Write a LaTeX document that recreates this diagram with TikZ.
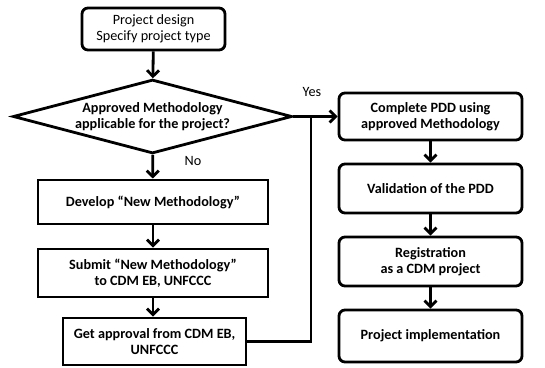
\documentclass[tikz,border=0pt]{standalone}
\usepackage{fontspec}
\setmainfont{Carlito}
\usetikzlibrary{arrows.meta,positioning,shapes.geometric}

\begin{document}
\begin{tikzpicture}[x=1pt,y=-1pt, >={Straight Barb[length=6pt,width=12pt]},
  every node/.style={font=\fontsize{14.2}{16.5}\selectfont},
  rbox/.style={draw,line width=2.8pt,rounded corners=6pt,minimum width=183pt,align=center,inner sep=0pt},
  sbox/.style={draw,line width=2.8pt,minimum width=230pt,align=center,inner sep=0pt},
  bold/.style={font=\fontsize{14.2}{16.5}\selectfont\bfseries},
  link/.style={->,line width=2.8pt}]
  \useasboundingbox (0,0) rectangle (545,367);
  % left column
  \node[rbox,minimum width=143pt,minimum height=42pt] (design) at (153.5,29) {Project design\\Specify project type};
  \node[draw,diamond,aspect=3.44,line width=2.8pt,minimum width=279pt,inner sep=0pt,bold,align=center] (check) at (152.5,116.5) {Approved Methodology\\applicable for the project?};
  \node[sbox,minimum height=44pt,bold] (develop) at (153,202) {Develop “New Methodology”};
  \node[sbox,minimum height=48pt,bold] (submit) at (153,273) {Submit “New Methodology”\\to CDM EB, UNFCCC};
  \node[sbox,minimum width=183pt,minimum height=47pt,bold] (approval) at (154.5,341.5) {Get approval from CDM EB,\\UNFCCC};

  % right column
  \node[rbox,minimum height=47pt,bold] (pdd) at (430.5,116.5) {Complete PDD using\\approved Methodology};
  \node[rbox,minimum height=49pt,bold] (valid) at (430.5,188.5) {Validation of the PDD};
  \node[rbox,minimum height=49pt,bold] (regist) at (430.5,261.5) {Registration\\as a CDM project};
  \node[rbox,minimum height=52pt,bold] (implement) at (430.5,336) {Project implementation};

  \coordinate (join) at (311,116.5);

  \draw[link] (design) -- (check);
  \draw[link] (check) -- (develop);
  \draw[link] (develop) -- (submit);
  \draw[link] (submit) -- (submit|-approval.north);
  \draw[link] (check.east) -- (pdd.west);
  \draw[line width=2.8pt] (approval.east) -| (join);
  \draw[link] (pdd) -- (valid);
  \draw[link] (valid) -- (regist);
  \draw[link] (regist) -- (implement);

  \node (yes) at (312,92) {Yes};
  \node (no) at (193,161) {No};
\end{tikzpicture}
\end{document}
